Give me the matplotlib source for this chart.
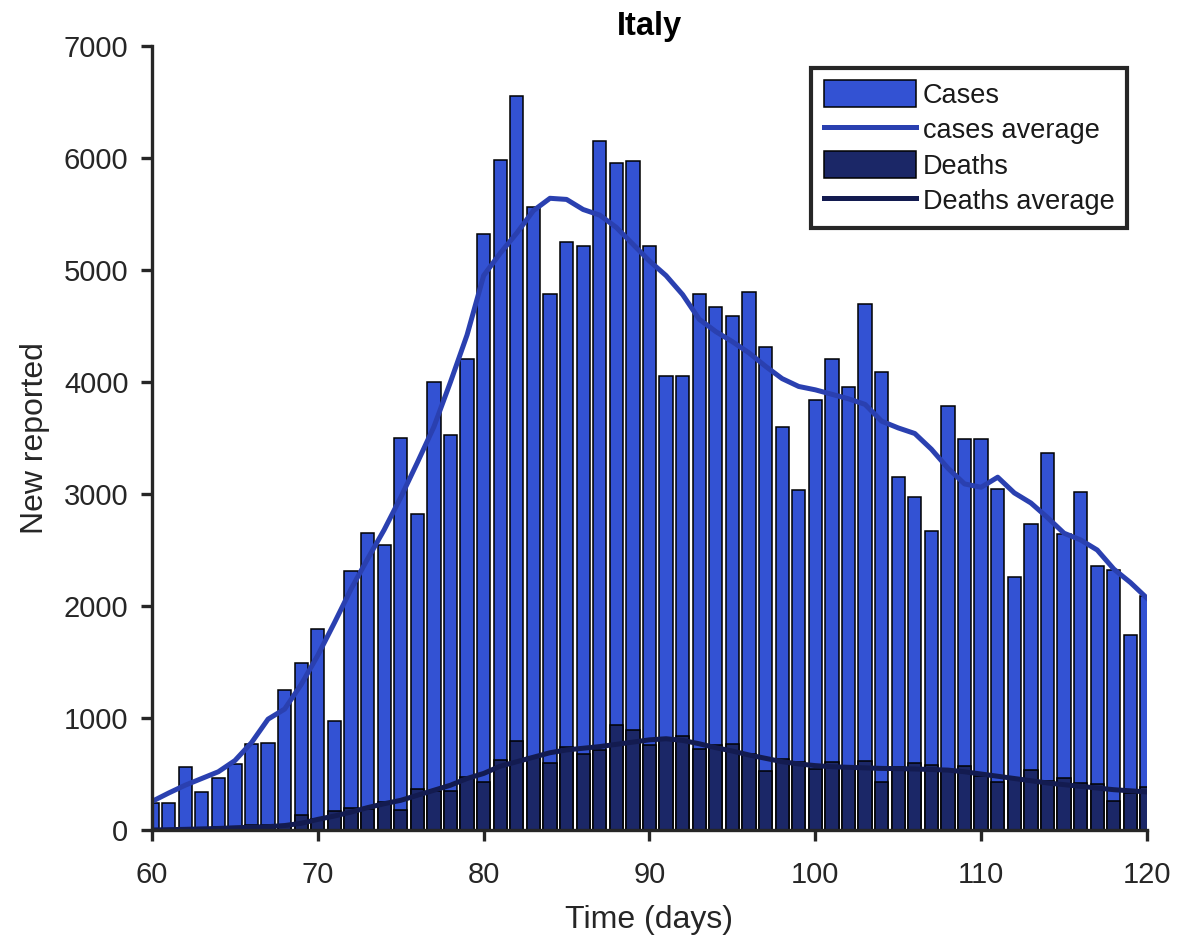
import matplotlib
matplotlib.use("Agg")
import matplotlib.pyplot as plt
import numpy as np

plt.rcParams['font.family'] = ['Liberation Sans', 'DejaVu Sans']

# Daily reports, day 60 .. 120
days = list(range(60, 121))
cases = [238, 240, 566, 342, 466, 587, 769, 778, 1247, 1492,
         1797, 977, 2313, 2651, 2547, 3497, 2823, 4000, 3526, 4207,
         5322, 5986, 6557, 5560, 4789, 5249, 5210, 6153, 5959, 5974,
         5217, 4050, 4053, 4782, 4668, 4585, 4805, 4316, 3599, 3039,
         3836, 4204, 3951, 4694, 4092, 3153, 2972, 2667, 3786, 3493,
         3491, 3047, 2256, 2729, 3370, 2646, 3021, 2357, 2324, 1739,
         2091]
deaths = [4, 8, 5, 18, 27, 28, 41, 49, 36, 133,
          97, 168, 196, 189, 250, 175, 368, 349, 345, 475,
          427, 627, 793, 651, 601, 743, 683, 712, 940, 889,
          756, 812, 837, 727, 760, 766, 681, 525, 636, 604,
          542, 610, 570, 619, 431, 566, 602, 578, 525, 575,
          482, 433, 454, 534, 437, 464, 420, 415, 260, 333,
          382]
cases_avg = [255, 330, 400, 460, 520, 620, 780, 990, 1080, 1300,
             1560, 1850, 2150, 2420, 2680, 2970, 3280, 3600, 4000, 4420,
             4950, 5150, 5330, 5530, 5640, 5630, 5540, 5490, 5380, 5230,
             5080, 4950, 4780, 4560, 4450, 4360, 4260, 4140, 4030, 3960,
             3930, 3890, 3850, 3800, 3650, 3590, 3540, 3400, 3230, 3090,
             3060, 3150, 3010, 2920, 2790, 2650, 2590, 2500, 2330, 2210,
             2070]
deaths_avg = [0, 3, 6, 10, 14, 20, 25, 30, 40, 60,
              95, 125, 160, 200, 235, 265, 310, 355, 400, 460,
              505, 570, 610, 650, 690, 715, 730, 745, 765, 785,
              805, 815, 800, 770, 735, 705, 670, 640, 610, 590,
              575, 565, 560, 555, 550, 548, 545, 540, 535, 520,
              500, 480, 460, 440, 420, 405, 390, 375, 360, 350,
              340]

x_ticks = [60, 70, 80, 90, 100, 110, 120]
y_ticks = [0, 1000, 2000, 3000, 4000, 5000, 6000, 7000]

axis_color = '#262626'
case_bar = '#3352D3'
case_line = '#2A40B0'
death_bar = '#1B2767'
death_line = '#131B50'

fig = plt.figure(figsize=(11.94, 9.40), dpi=100)
ax = fig.add_axes([0.1273, 0.1170, 0.8333, 0.8341])

h_cases = ax.bar(days, cases, width=0.8, color=case_bar, edgecolor='black',
                 linewidth=1.1, label='Cases', zorder=2)
h_cavg, = ax.plot(days, cases_avg, color=case_line, linewidth=3.6,
                  label='cases average', zorder=3)
h_deaths = ax.bar(days, deaths, width=0.8, color=death_bar, edgecolor='black',
                  linewidth=1.1, label='Deaths', zorder=4)
h_davg, = ax.plot(days, deaths_avg, color=death_line, linewidth=3.6,
                  label='Deaths average', zorder=5)

ax.set_xlim(60, 120)
ax.set_ylim(0, 7000)
ax.set_xticks(x_ticks)
ax.set_yticks(y_ticks)

for side in ('top', 'right'):
    ax.spines[side].set_visible(False)
for side in ('left', 'bottom'):
    ax.spines[side].set_linewidth(2.4)
    ax.spines[side].set_color(axis_color)
    ax.spines[side].set_zorder(6)

ax.tick_params(axis='both', direction='out', length=8, width=2.4,
               color=axis_color, labelcolor=axis_color, labelsize=21)
ax.tick_params(axis='x', pad=14)
ax.tick_params(axis='y', pad=9)

ax.set_xlabel('Time (days)', fontsize=23, color=axis_color, labelpad=12)
ax.set_ylabel('New reported', fontsize=23, color=axis_color, labelpad=10)
ax.set_title('Italy', fontsize=23.5, fontweight='bold', color='black', pad=8)

leg = ax.legend([h_cases, h_cavg, h_deaths, h_davg],
                ['Cases', 'cases average', 'Deaths', 'Deaths average'],
                loc='upper right', bbox_to_anchor=(0.9799, 0.9719),
                borderaxespad=0, fontsize=19.5, frameon=True, fancybox=False,
                handlelength=3.4, handleheight=1.15, handletextpad=0.25,
                labelspacing=0.25, borderpad=0.46)
frame = leg.get_frame()
frame.set_edgecolor(axis_color)
frame.set_linewidth(3.0)
frame.set_facecolor('white')
frame.set_alpha(1.0)
leg.set_zorder(10)
for t in leg.get_texts():
    t.set_color('#1a1a1a')

fig.savefig('out.png', dpi=100, facecolor='white')
